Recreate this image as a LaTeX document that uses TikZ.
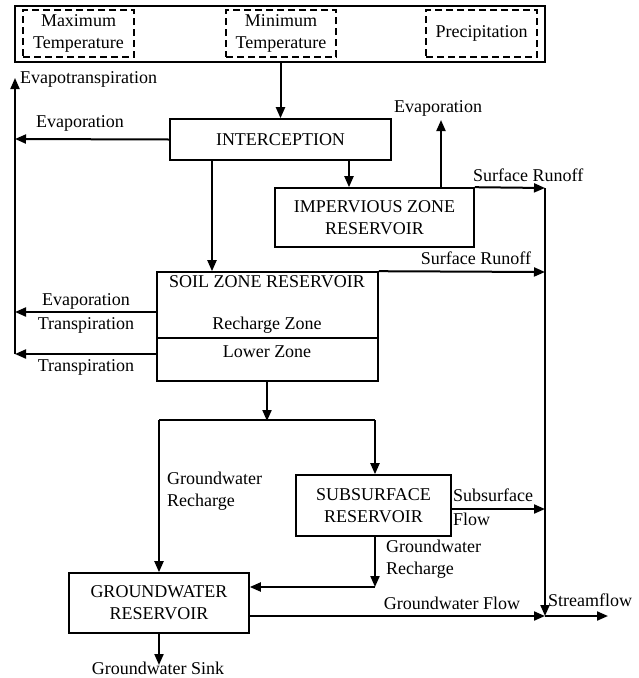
\documentclass[tikz,border=0pt]{standalone}
\usepackage{fontspec}
\setmainfont{Liberation Serif}
\usetikzlibrary{arrows.meta}
\begin{document}
\begin{tikzpicture}[x=1pt,y=-1pt,
  font=\fontsize{18}{22}\selectfont,
  box/.style={draw, line width=1.6pt, inner sep=0pt, align=center},
  dbox/.style={draw, dashed, dash pattern=on 7pt off 4pt, line width=1.5pt, inner sep=0pt, align=center},
  lbl/.style={inner sep=0pt, align=left},
  arr/.style={line width=2pt, -{Triangle[length=11pt,width=9pt]}},
  ln/.style={line width=2pt}]
\useasboundingbox (0,0) rectangle (638,678);
% boxes
\node[box, minimum width=530pt, minimum height=56pt] (top) at (280,34) {};
\node[dbox, minimum width=111pt, minimum height=47pt] (tmax) at (78.5,33.5) {Maximum\\Temperature};
\node[dbox, minimum width=110pt, minimum height=47pt] (tmin) at (281,33.5) {Minimum\\Temperature};
\node[dbox, minimum width=111pt, minimum height=47pt] (prec) at (481.5,33.5) {Precipitation};
\node[box, minimum width=221pt, minimum height=41pt] (icp) at (280.5,139.5) {INTERCEPTION};
\node[box, minimum width=199pt, minimum height=59pt] (imp) at (374.5,217.5) {IMPERVIOUS ZONE\\RESERVOIR};
\node[box, minimum width=221pt, minimum height=109pt] (soil) at (267.5,326.5) {};
\node[box, minimum width=155pt, minimum height=61pt] (sub) at (373.5,505.5) {SUBSURFACE\\RESERVOIR};
\node[box, minimum width=180pt, minimum height=60pt] (gw) at (159,603) {GROUNDWATER\\RESERVOIR};
% soil interior
\coordinate (divy) at (0,338);
\draw[line width=1.6pt] (soil.west |- divy) -- (soil.east |- divy);
\node[lbl] (soilt) at (267,282) {SOIL ZONE RESERVOIR};
\node[lbl] (rz) at (267,325) {Recharge Zone};
\node[lbl] (lz) at (267,352) {Lower Zone};
% coordinates
\coordinate (etTop) at (15,78);
\coordinate (etBot) at (15,354);
\coordinate (evI) at (15,139);
\coordinate (evS) at (15,312);
\coordinate (trS) at (15,354);
\coordinate (evImp) at (441,120);
\coordinate (sfTop) at (545,188);
\coordinate (sfSoil) at (545,272);
\coordinate (sfSub) at (545,509);
\coordinate (sfGw) at (545,616);
\coordinate (sfOut) at (608,616);
\coordinate (splitM) at (267,420);
\coordinate (splitL) at (159,420);
\coordinate (splitR) at (375,420);
\coordinate (rcCorner) at (375,587);
\coordinate (sink) at (159,665);
% connectors
\draw[arr] (icp.north |- top.south) -- (icp.north);
\draw[arr] (etBot) -- (etTop);
\draw[arr] (icp.west) -- (evI);
\draw[arr] (icp.south -| 349,0) -- (imp.north -| 349,0);
\draw[arr] (imp.north -| evImp) -- (evImp);
\draw[arr] (imp.north east) -- (sfTop);
\draw[ln] (sfTop) -- (sfSoil);
\draw[arr] (sfSoil) -- (sfGw);
\draw[arr] (icp.south -| 212,0) -- (soil.north -| 212,0);
\draw[arr] (soil.north east) -- (sfSoil);
\draw[arr] (soil.west |- evS) -- (evS);
\draw[arr] (soil.west |- trS) -- (trS);
\draw[arr] (soil.south -| splitM) -- ([yshift=-1pt]splitM);
\draw[ln] (splitL) -- (splitR);
\draw[arr] (splitL) -- (gw.north);
\draw[arr] (splitR) -- (sub.north -| splitR);
\draw[arr] (sub.east |- sfSub) -- (sfSub);
\draw[arr] (sub.south -| rcCorner) -- (rcCorner);
\draw[arr] (rcCorner) -- (gw.east |- rcCorner);
\draw[arr] (gw.east |- sfGw) -- (sfGw);
\draw[arr] (sfGw) -- (sfOut);
\draw[arr] (gw.south) -- (sink);
% labels
\node[lbl, anchor=west] (l1) at (20,79) {Evapotranspiration};
\node[lbl] (l2) at (80,123) {Evaporation};
\node[lbl] (l3) at (438,108) {Evaporation};
\node[lbl, anchor=west] (l4) at (473,175) {Surface Runoff};
\node[lbl] (l5) at (476,258) {Surface Runoff};
\node[lbl] (l6) at (86,301) {Evaporation};
\node[lbl] (l7) at (86,325) {Transpiration};
\node[lbl] (l8) at (86,367) {Transpiration};
\node[lbl, anchor=west] (l9) at (167,491) {Groundwater\\Recharge};
\node[lbl, anchor=west] (l10) at (453,495) {Subsurface};
\node[lbl, anchor=west] (l11) at (453,519) {Flow};
\node[lbl, anchor=west] (l12) at (386,559) {Groundwater\\Recharge};
\node[lbl] (l13) at (452,603) {Groundwater Flow};
\node[lbl, anchor=west] (l14) at (548,600) {Streamflow};
\node[lbl] (l15) at (158,668) {Groundwater Sink};
\end{tikzpicture}
\end{document}
